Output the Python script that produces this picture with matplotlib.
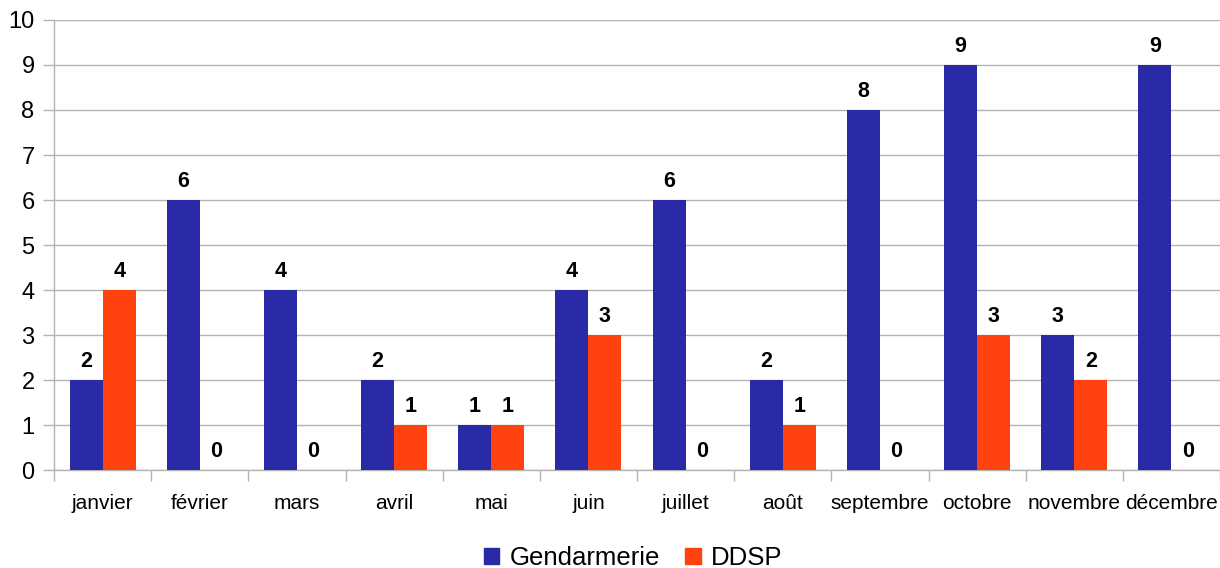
import matplotlib
matplotlib.use("Agg")
import matplotlib.pyplot as plt
import numpy as np
from matplotlib.patches import Patch

plt.rcParams['font.family'] = ['Liberation Sans', 'DejaVu Sans']

months = ["janvier", "février", "mars", "avril", "mai", "juin", "juillet",
          "août", "septembre", "octobre", "novembre", "décembre"]
gendarmerie = [2, 6, 4, 2, 1, 4, 6, 2, 8, 9, 3, 9]
ddsp = [4, 0, 0, 1, 1, 3, 0, 1, 0, 3, 2, 0]
yticks = list(range(0, 11))

c_gend = "#2B2AA6"
c_ddsp = "#FF420E"

fig = plt.figure(figsize=(12.2, 5.68), dpi=100)
ax = fig.add_axes([0.0443, 0.1725, 0.9557, 0.7923])

x = np.arange(len(months))
w = 0.34
b1 = ax.bar(x - w/2, gendarmerie, w, color=c_gend, zorder=3)
b2 = ax.bar(x + w/2, ddsp, w, color=c_ddsp, zorder=3)

for bars, vals in ((b1, gendarmerie), (b2, ddsp)):
    for r, v in zip(bars, vals):
        ax.annotate(str(v), (r.get_x() + r.get_width()/2, v),
                    xytext=(0, 5.5), textcoords="offset points",
                    ha="center", va="bottom", fontsize=15.5, fontweight="bold",
                    color="black")

ax.set_xlim(-0.5, len(months) - 0.5)
ax.set_ylim(0, 10)
ax.set_yticks(yticks)
ax.set_yticklabels([str(t) for t in yticks], fontsize=17)
ax.set_xticks(x)
ax.set_xticklabels(months, fontsize=15)
ax.set_xticks(np.arange(len(months) + 1) - 0.5, minor=True)
ax.tick_params(axis='x', which='major', length=0, pad=17)
ax.tick_params(axis='x', which='minor', length=8, color="#b3b3b3", width=1)
ax.tick_params(axis='y', length=8, color="#b3b3b3", width=1, pad=6)

ax.grid(axis='y', color="#b3b3b3", linewidth=1, zorder=0)
for s in ("top", "right"):
    ax.spines[s].set_visible(False)
for s in ("left", "bottom"):
    ax.spines[s].set_color("#b3b3b3")
    ax.spines[s].set_linewidth(1)

handles = [Patch(color=c_gend, label="Gendarmerie"), Patch(color=c_ddsp, label="DDSP")]
fig.legend(handles=handles, loc="center", bbox_to_anchor=(0.519, 0.018),
           ncol=2, frameon=False, fontsize=18.5, handlelength=0.6, handleheight=0.6,
           handletextpad=0.4, columnspacing=1.0)

fig.savefig("out.png", dpi=100)
